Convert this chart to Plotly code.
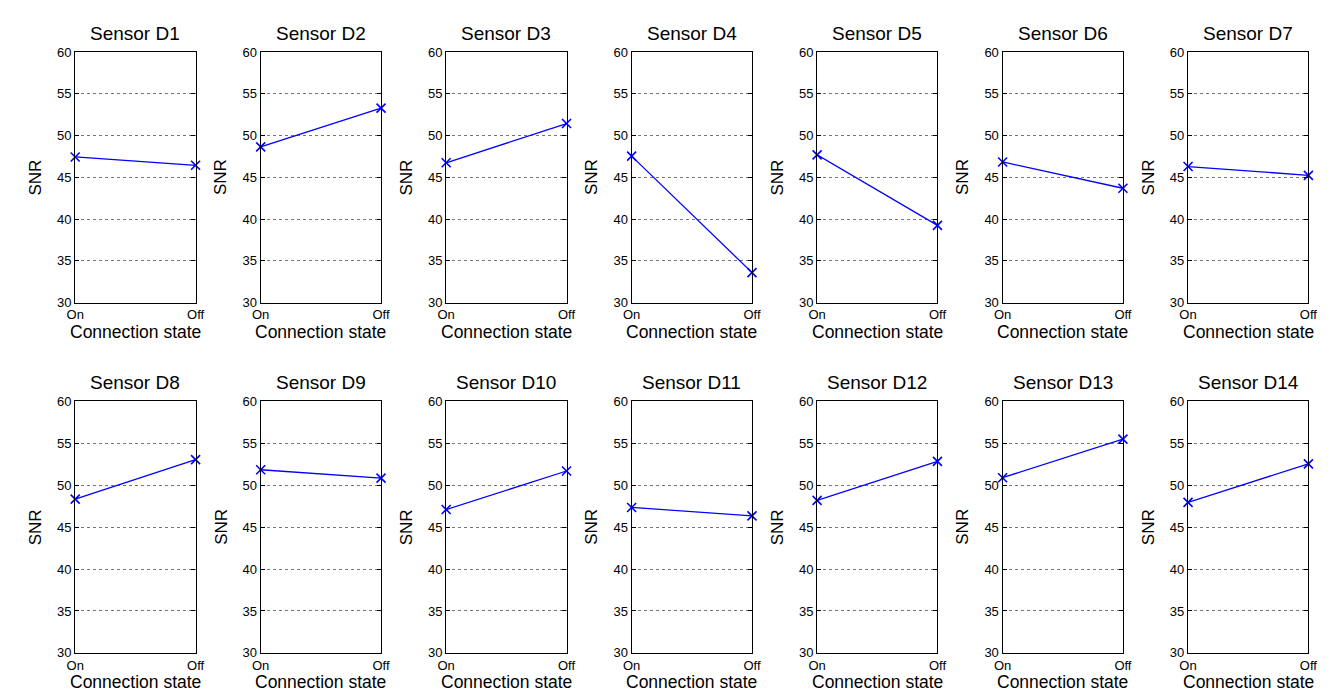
import plotly.graph_objects as go

sensors = ["D1", "D2", "D3", "D4", "D5", "D6", "D7",
           "D8", "D9", "D10", "D11", "D12", "D13", "D14"]
states = ["On", "Off"]
snr_on = [47.45, 48.65, 46.75, 47.55, 47.7, 46.85, 46.3,
          48.35, 51.85, 47.1, 47.35, 48.2, 50.9, 47.95]
snr_off = [46.45, 53.3, 51.45, 33.6, 39.25, 43.7, 45.25,
           53.05, 50.85, 51.7, 46.35, 52.85, 55.5, 52.55]
y_ticks = [30, 35, 40, 45, 50, 55, 60]

W, H = 1339, 692
FONT = "Arial, Liberation Sans, Helvetica, sans-serif"

fig = go.Figure()
annotations = []
layout = {}

for i, name in enumerate(sensors):
    row, col = divmod(i, 7)
    left = 59 + 188 * col
    right = left + 122
    if row == 0:
        top, bot = 38, 294
    else:
        top, bot = 395, 652
    xd = [left / W, right / W]
    yd = [1 - bot / H, 1 - top / H]
    k = "" if i == 0 else str(i + 1)
    fig.add_trace(go.Scatter(
        x=[0, 1], y=[snr_on[i], snr_off[i]],
        mode="lines+markers",
        line=dict(color="#0000FF", width=1.3),
        marker=dict(symbol="x-thin", size=9, color="#0000FF",
                    line=dict(color="#0000FF", width=1.6)),
        cliponaxis=False, showlegend=False,
        xaxis="x" + k, yaxis="y" + k,
    ))
    layout["xaxis" + k] = dict(
        domain=xd, anchor="y" + k, range=[0, 1],
        tickmode="array", tickvals=[0, 1], ticktext=states,
        ticks="inside", ticklen=4, tickcolor="black",
        showline=True, linecolor="black", linewidth=1.2, mirror="ticks",
        showgrid=False, zeroline=False, fixedrange=True,
        tickfont=dict(family=FONT, size=13, color="black"),
    )
    layout["yaxis" + k] = dict(
        domain=yd, anchor="x" + k, range=[30, 60],
        tickmode="array", tickvals=y_ticks,
        ticks="inside", ticklen=4, tickcolor="black",
        showline=True, linecolor="black", linewidth=1.2, mirror="ticks",
        showgrid=True, gridcolor="#777777", griddash="dot", gridwidth=1,
        zeroline=False, fixedrange=True,
        tickfont=dict(family=FONT, size=13, color="black"),
    )
    cx = (xd[0] + xd[1]) / 2
    annotations.append(dict(
        text="Sensor " + name, x=cx, y=yd[1], xref="paper", yref="paper",
        xanchor="center", yanchor="bottom", yshift=6, showarrow=False,
        font=dict(family=FONT, size=19, color="black")))
    annotations.append(dict(
        text="Connection state", x=cx, y=yd[0], xref="paper", yref="paper",
        xanchor="center", yanchor="top", yshift=-17, showarrow=False,
        font=dict(family=FONT, size=17.5, color="black")))
    annotations.append(dict(
        text="SNR", x=xd[0], y=(yd[0] + yd[1]) / 2, xref="paper", yref="paper",
        xanchor="center", yanchor="middle", xshift=-40, textangle=-90,
        showarrow=False, font=dict(family=FONT, size=17, color="black")))

fig.update_layout(
    width=W, height=H, margin=dict(l=0, r=0, t=0, b=0),
    paper_bgcolor="white", plot_bgcolor="white",
    annotations=annotations, **layout,
)

fig.write_html("out.html")
